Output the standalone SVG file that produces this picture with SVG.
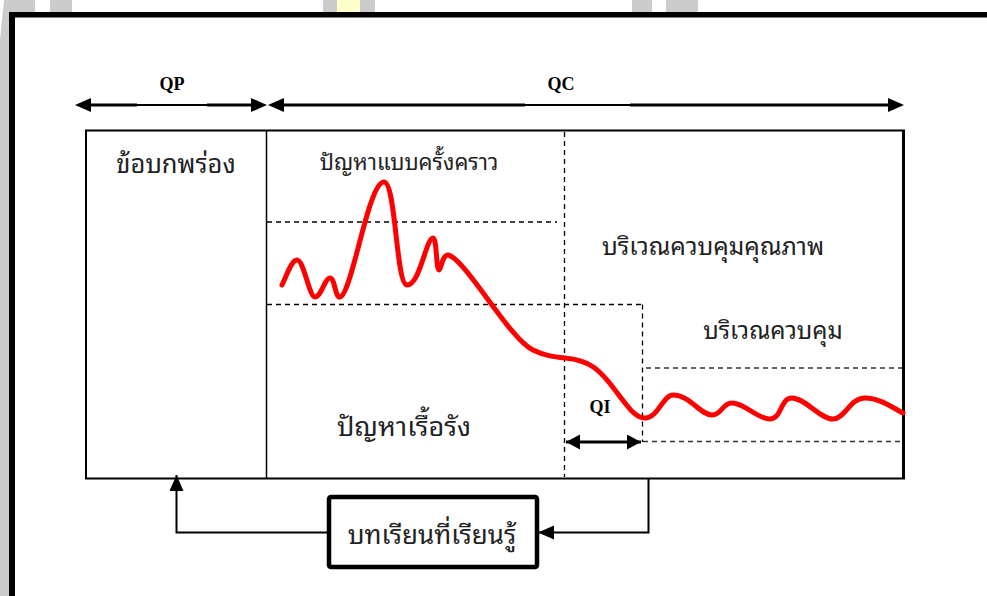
<svg xmlns="http://www.w3.org/2000/svg" width="987" height="596" viewBox="0 0 987 596">
<style>
.thai{font-family:"Noto Sans Thai Looped","Noto Serif Thai","Loma","Garuda","Noto Sans Thai","Noto Sans","DejaVu Sans",sans-serif;fill:#222;text-anchor:middle}
.lbl{font-family:"Liberation Serif","Times New Roman",serif;font-weight:bold;font-size:18px;fill:#000;text-anchor:middle}
.dash{fill:none;stroke:#000;stroke-width:1.3;stroke-dasharray:5,4}
.dark{stroke:#333}
.thin{fill:none;stroke:#000;stroke-width:2}
.thick{fill:none;stroke:#000;stroke-width:3}
</style>
<defs>
<marker id="ah" markerUnits="userSpaceOnUse" markerWidth="17" markerHeight="16" refX="16" refY="7" orient="auto-start-reverse"><path d="M0,0 L16,7 L0,14 z" fill="#000"/></marker>
<marker id="ahs" markerUnits="userSpaceOnUse" markerWidth="15" markerHeight="16" refX="14" refY="7.5" orient="auto-start-reverse"><path d="M0,0 L14,7.5 L0,15 z" fill="#000"/></marker>
</defs>
<rect width="987" height="596" fill="#fff"/>
<g id="watermark">
<polygon points="4,0 35,0 35,13 11,13 9,596 0,596 0,40" fill="#cccccc"/>
<rect x="50" y="0" width="22" height="13" fill="#cccccc"/>
<rect x="323" y="0" width="14" height="13" fill="#cccccc"/>
<rect x="337" y="0" width="23" height="13" fill="#ffffcc"/>
<rect x="360" y="0" width="15" height="13" fill="#cccccc"/>
<rect x="632" y="0" width="20" height="13" fill="#cccccc"/>
<rect x="666" y="0" width="32" height="13" fill="#cccccc"/>
</g>
<g id="frame">
<rect x="9" y="12" width="978" height="5.5" fill="#000"/>
<rect x="9" y="12" width="6" height="584" fill="#000"/>
</g>
<g id="chart-box">
<rect x="86" y="130.5" width="818" height="348" fill="none" stroke="#000" stroke-width="2"/>
<line x1="903.5" y1="130" x2="903.5" y2="479" stroke="#000" stroke-width="3"/>
<line x1="266.5" y1="130" x2="266.5" y2="478" stroke="#000" stroke-width="1.5"/>
</g>
<g id="zones">
<line class="dash" x1="564.5" y1="132" x2="564.5" y2="477"/>
<line class="dash" x1="267" y1="222" x2="557" y2="222"/>
<line class="dash" x1="267" y1="304.5" x2="642.5" y2="304.5"/>
<line class="dash" x1="642.5" y1="304.5" x2="642.5" y2="442"/>
<line class="dash dark" x1="646" y1="368" x2="902" y2="368"/>
<line class="dash dark" x1="643" y1="441.5" x2="902" y2="441.5"/>
</g>
<g id="node-qp"><text class="lbl" x="172" y="90">QP</text></g>
<g id="node-qc"><text class="lbl" x="561" y="90">QC</text></g>
<g id="node-qi"><text class="lbl" x="600" y="413">QI</text></g>
<g id="node-defect"><text class="thai" x="176" y="173" font-size="25.5">ข้อบกพร่อง</text></g>
<g id="node-sporadic"><text class="thai" x="409" y="170" font-size="22">ปัญหาแบบครั้งคราว</text></g>
<g id="node-quality-control-zone"><text class="thai" x="713" y="255" font-size="24.5">บริเวณควบคุมคุณภาพ</text></g>
<g id="node-control-zone"><text class="thai" x="773" y="339" font-size="24">บริเวณควบคุม</text></g>
<g id="node-chronic"><text class="thai" x="404" y="436" font-size="27">ปัญหาเรื้อรัง</text></g>
<g id="node-lessons">
<rect x="329" y="497" width="208" height="70" rx="2" fill="#fff" stroke="#000" stroke-width="4.5"/>
<text class="thai" x="432" y="544" font-size="26">บทเรียนที่เรียนรู้</text>
</g>
<g id="curve">
<path d="M282,285 C288,272 292,260 297,260 C304,260 309,297 315,297 C321,297 325,278 330,278 C335,278 335,298 340,297 C352,295 368,182 384,182 C396,182 396,285 407,285 C420,285 426,238 433,238 C437,238 436,270 439,270 C441,270 442,255 448,255 C465,258 510,340 533,350 C545,356 555,357 565,358 C590,360 600,370 615,390 C630,410 636,418 645,418 C658,418 663,395 673,395 C690,395 700,415 712,415 C722,415 722,403 732,403 C745,403 757,419 770,419 C782,419 780,398 792,398 C805,398 820,419 833,419 C845,419 850,398 865,398 C880,398 893,408 903,413" fill="none" stroke="#ff0000" stroke-width="5" stroke-linecap="round" stroke-linejoin="round"/>
</g>
<g id="connectors">
<line class="thick" x1="90" y1="105" x2="137" y2="105"/>
<line class="thin" x1="137" y1="105" x2="207" y2="105" stroke-width="1.5"/>
<line class="thick" x1="207" y1="105" x2="252" y2="105"/>
<line x1="75" y1="105" x2="267" y2="105" stroke="none" marker-start="url(#ah)" marker-end="url(#ah)"/>
<line class="thick" x1="283" y1="105" x2="525" y2="105"/>
<line class="thin" x1="525" y1="105" x2="630" y2="105" stroke-width="1.5"/>
<line class="thick" x1="630" y1="105" x2="889" y2="105"/>
<line x1="268" y1="105" x2="904" y2="105" stroke="none" marker-start="url(#ah)" marker-end="url(#ah)"/>
<line class="thick" x1="566" y1="442" x2="641" y2="442" marker-start="url(#ahs)" marker-end="url(#ahs)"/>
<polyline class="thin" points="648.5,478 648.5,532.5 538,532.5" marker-end="url(#ah)"/>
<polyline class="thin" points="329,532.5 176.5,532.5 176.5,475" marker-end="url(#ah)"/>
</g>
</svg>
